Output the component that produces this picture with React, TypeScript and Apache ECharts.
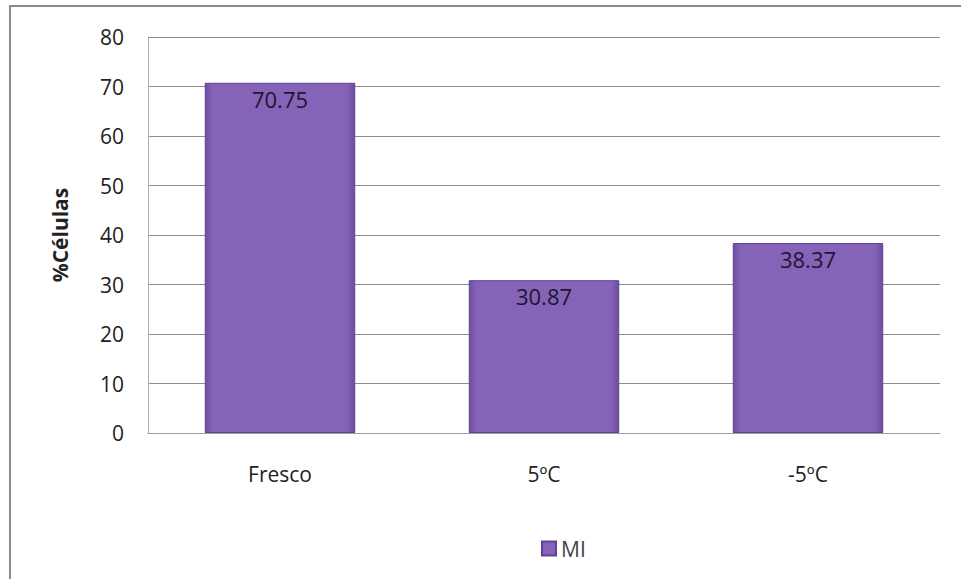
import React, { useEffect, useRef } from "react";
import * as echarts from "echarts";

const categories = ["Fresco", "5ºC", "-5ºC"];
const seriesName = "MI";
const values = [70.75, 30.87, 38.37];
const yTicks = { min: 0, max: 80, interval: 10 };

export default function App() {
  const ref = useRef<HTMLDivElement>(null);
  useEffect(() => {
    const chart = echarts.init(ref.current!, null, { renderer: "svg" });
    const barColor = new echarts.graphic.LinearGradient(0, 0, 1, 0, [
      { offset: 0, color: "#6f4fa3" },
      { offset: 0.05, color: "#8463b8" },
      { offset: 0.95, color: "#8463b8" },
      { offset: 1, color: "#6a4b9c" },
    ]);
    chart.setOption({
      animation: false,
      backgroundColor: "#ffffff",
      graphic: [
        {
          type: "polyline",
          shape: { points: [[10, 579], [10, 6], [961, 6]] },
          style: { stroke: "#8a8a8a", lineWidth: 2, fill: "none" },
          silent: true,
        },
      ],
      grid: { left: 148, right: 21, top: 37, bottom: 146, containLabel: false },
      legend: {
        top: 533,
        left: 536,
        data: [seriesName],
        icon: "rect",
        itemWidth: 14,
        itemHeight: 14,
        itemGap: 6,
        textStyle: { fontFamily: "Open Sans", fontSize: 21, color: "#444" },
      },
      xAxis: {
        type: "category",
        data: categories,
        axisLine: { show: true, lineStyle: { color: "#a0a0a0", width: 1 } },
        axisTick: { show: false },
        axisLabel: {
          margin: 30,
          fontFamily: "Open Sans",
          fontSize: 21,
          color: "#222",
        },
      },
      yAxis: {
        type: "value",
        min: yTicks.min,
        max: yTicks.max,
        interval: yTicks.interval,
        name: "%Células",
        nameLocation: "middle",
        nameGap: 78,
        nameRotate: 90,
        nameTextStyle: {
          fontFamily: "Open Sans",
          fontSize: 21,
          fontWeight: "bold",
          color: "#222",
        },
        axisLine: { show: true, lineStyle: { color: "#b0b0b0", width: 1 } },
        axisTick: { show: false },
        axisLabel: {
          margin: 24,
          fontFamily: "Open Sans",
          fontSize: 21,
          color: "#222",
        },
        splitLine: { show: true, lineStyle: { color: "#8c8c8c", width: 1 } },
      },
      series: [
        {
          type: "bar",
          name: seriesName,
          data: values,
          barWidth: "57%",
          itemStyle: {
            color: barColor,
            borderColor: "#5e4390",
            borderWidth: 1,
          },
          label: {
            show: true,
            position: "insideTop",
            distance: 5,
            fontFamily: "Open Sans",
            fontSize: 22,
            color: "#1e1530",
          },
        },
      ],
    });
    return () => chart.dispose();
  }, []);
  return (
    <div
      ref={ref}
      style={{ position: "absolute", left: 0, top: 0, width: 961, height: 579 }}
    />
  );
}
